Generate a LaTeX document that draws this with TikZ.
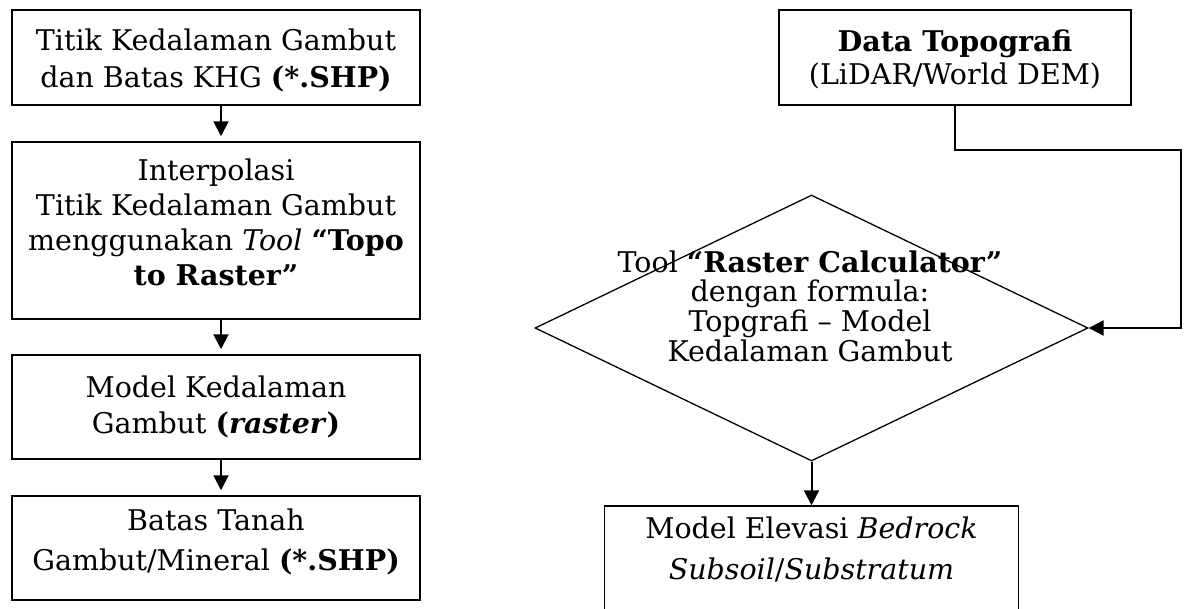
\documentclass[tikz,border=0pt]{standalone}
\usepackage{fontspec}
\setmainfont{DejaVu Serif}
\usetikzlibrary{arrows.meta,shapes.geometric}
\tikzset{
  lbox/.style={draw, line width=1.5pt, minimum width=408pt, inner sep=0pt, align=center},
  rbox/.style={draw, line width=1.4pt, inner sep=0pt, align=center},
  arr/.style={line width=2pt, -{Triangle[length=15pt,width=15pt]}},
}
% #1 raise, #2 line spacing, #3 lines
\newcommand{\bxt}[3]{\raisebox{#1}[\height][\depth]{\fontsize{28.5}{#2}\selectfont\begin{tabular}{@{}c@{}}#3\end{tabular}}}
\begin{document}
\begin{tikzpicture}[x=1pt,y=-1pt]
\useasboundingbox (0,0) rectangle (1185,608);
% left column
\node[lbox, minimum height=95pt] (b1) at (216,57.5) {\bxt{-3.6pt}{37}{Titik Kedalaman Gambut\\dan Batas KHG \textbf{(*.SHP)}}};
\node[lbox, minimum height=177pt] (b2) at (216,230.5) {\bxt{4.6pt}{35.3}{Interpolasi\\Titik Kedalaman Gambut\\menggunakan \textit{Tool} \textbf{“Topo}\\\textbf{to Raster”}}};
\node[lbox, minimum height=104pt] (b3) at (216,407) {\bxt{-0.8pt}{36}{Model Kedalaman\\Gambut \textbf{(\textit{raster})}}};
\node[lbox, minimum height=104pt] (b4) at (216,548) {\bxt{6pt}{40}{Batas Tanah\\Gambut/Mineral \textbf{(*.SHP)}}};
\draw[arr, shorten >=5pt] ([xshift=5pt]b1.south) -- ([xshift=5pt]b2.north);
\draw[arr, shorten >=5pt] ([xshift=5pt]b2.south) -- ([xshift=5pt]b3.north);
\draw[arr, shorten >=5pt] ([xshift=5pt]b3.south) -- ([xshift=5pt]b4.north);
% right column
\node[rbox, minimum width=352pt, minimum height=95pt] (top) at (955,57.5) {\bxt{-3.4pt}{33}{\textbf{Data Topografi}\\(LiDAR/World DEM)}};
\node[draw, diamond, line width=1.3pt, minimum width=553pt, minimum height=266pt, inner sep=0pt] (d) at (811.5,328) {};
\node[anchor=base, inner sep=0pt, font=\fontsize{28.5}{27}\selectfont] (dt) at (810,272) {\begin{tabular}[t]{@{}c@{}}Tool \textbf{“Raster Calculator”}\\dengan formula:\\Topgrafi – Model\\Kedalaman Gambut\end{tabular}};
\node[rbox, minimum width=414pt, minimum height=106pt] (bb) at (811.5,559) {\bxt{8.7pt}{41}{Model Elevasi \textit{Bedrock}\\\textit{Subsoil}/\textit{Substratum}}};
\coordinate (c1) at (1181,150);
\draw[arr] (top.south) |- (c1) |- (d.east);
\draw[arr] (d.south) -- (bb.north);
\end{tikzpicture}
\end{document}
